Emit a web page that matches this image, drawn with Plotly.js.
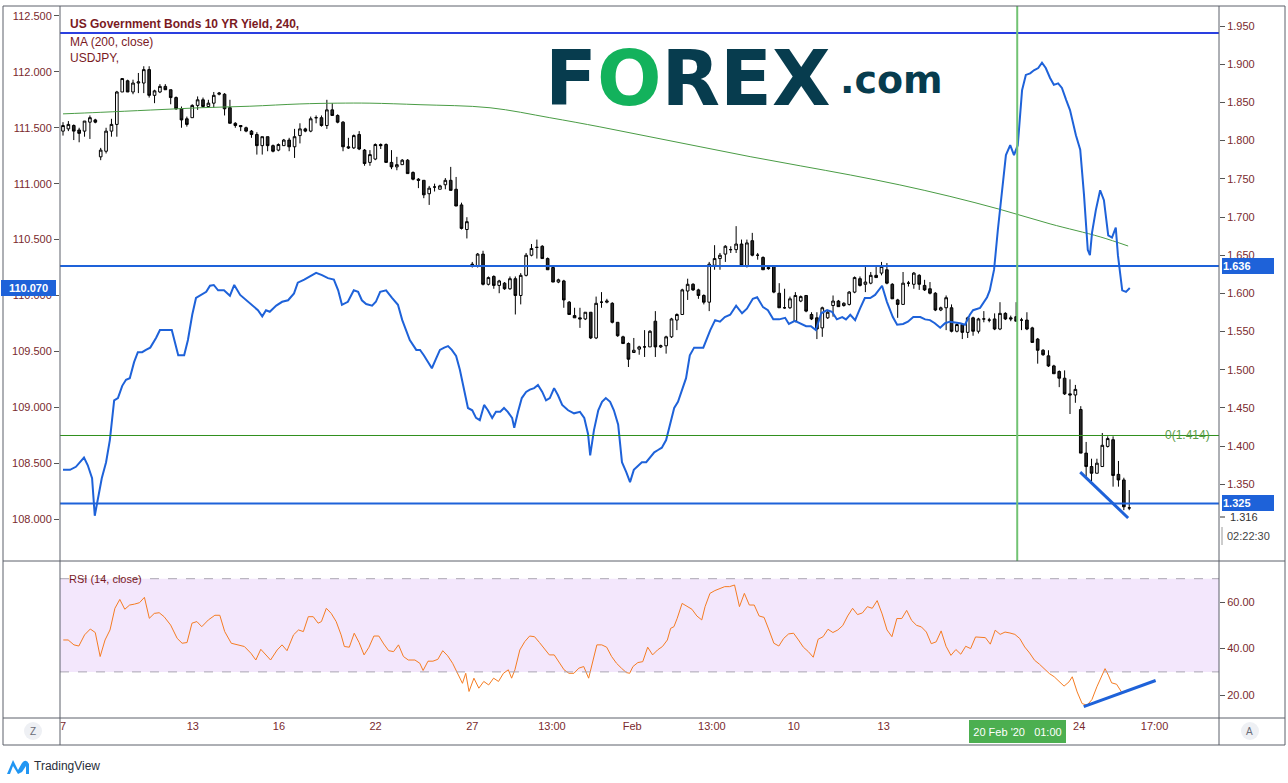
<!DOCTYPE html>
<html><head><meta charset="utf-8">
<script src="https://cdn.plot.ly/plotly-3.0.1.min.js"></script>
<style>html,body{margin:0;padding:0;background:#fff;}#chart{width:1288px;height:783px;}</style>
</head><body><div id="chart"></div>
<script>
// ---- USDJPY 4h candles (left scale) ----
const usdjpyOpen = [111.47,111.49,111.52,111.48,111.47,111.55,111.57,111.24,111.29,111.47,
111.53,111.82,111.92,111.82,111.90,111.90,112.02,111.79,111.82,111.87,
111.84,111.77,111.67,111.58,111.59,111.70,111.75,111.69,111.72,111.80,
111.80,111.68,111.54,111.52,111.50,111.47,111.44,111.34,111.42,111.34,
111.30,111.34,111.39,111.33,111.43,111.49,111.47,111.59,111.59,111.52,
111.66,111.61,111.55,111.33,111.32,111.44,111.30,111.19,111.22,111.35,
111.35,111.19,111.15,111.17,111.21,111.10,111.04,111.03,110.91,110.97,
110.95,110.99,111.03,110.95,110.81,110.59,110.28,110.26,110.37,110.10,
110.17,110.09,110.11,110.06,110.15,110.00,110.18,110.36,110.43,110.44,
110.33,110.25,110.12,110.13,109.94,109.82,109.80,109.79,109.85,109.62,
109.94,109.94,109.93,109.76,109.63,109.57,109.49,109.52,109.54,109.54,
109.77,109.54,109.55,109.63,109.78,109.83,110.04,110.10,110.05,110.00,
109.94,110.27,110.33,110.37,110.41,110.41,110.46,110.26,110.49,110.36,
110.34,110.25,110.26,110.02,109.89,109.89,109.77,109.95,110.00,109.83,
109.80,109.71,109.80,109.91,109.95,109.91,109.92,110.03,110.15,110.10,
110.11,110.18,110.20,110.23,110.10,109.96,109.92,110.11,110.10,110.18,
110.09,110.06,110.02,109.87,109.89,109.89,109.68,109.74,109.67,109.80,
109.68,109.79,109.78,109.79,109.70,109.84,109.80,109.81,109.78,109.78,
109.71,109.61,109.51,109.46,109.37,109.32,109.26,109.12,109.11,108.98,
108.59,108.47,108.41,108.47,108.65,108.71,108.40,108.35,108.10];
const usdjpyHigh = [111.55,111.56,111.53,111.50,111.56,111.61,111.58,111.32,111.50,111.58,
111.83,111.94,111.93,111.93,111.99,112.05,112.05,111.84,111.89,111.89,
111.84,111.78,111.69,111.60,111.71,111.78,111.77,111.75,111.82,111.82,
111.81,111.75,111.55,111.52,111.51,111.48,111.46,111.42,111.42,111.35,
111.36,111.40,111.41,111.49,111.54,111.50,111.60,111.61,111.61,111.75,
111.72,111.62,111.56,111.41,111.44,111.47,111.31,111.30,111.36,111.36,
111.36,111.30,111.24,111.22,111.22,111.11,111.05,111.03,110.98,111.00,
110.99,111.05,111.15,111.06,110.83,110.70,110.30,110.38,110.40,110.17,
110.18,110.14,110.12,110.17,110.17,110.20,110.38,110.46,110.50,110.45,
110.34,110.25,110.15,110.14,109.95,109.89,109.89,109.85,109.85,109.99,
110.03,109.97,109.94,109.76,109.64,109.58,109.62,109.55,109.69,109.69,
109.86,109.56,109.64,109.80,109.84,110.06,110.15,110.11,110.06,110.01,
110.30,110.45,110.38,110.45,110.44,110.62,110.50,110.50,110.56,110.38,
110.35,110.27,110.27,110.11,110.06,109.99,110.03,110.00,110.00,109.85,
109.85,109.90,109.86,110.00,109.96,109.94,110.04,110.17,110.17,110.27,
110.21,110.27,110.30,110.29,110.11,109.97,110.21,110.13,110.21,110.19,
110.14,110.12,110.03,109.90,110.00,109.92,109.75,109.75,109.81,109.81,
109.80,109.86,109.80,109.84,109.94,109.85,109.82,109.94,109.80,109.85,
109.72,109.62,109.52,109.51,109.38,109.33,109.33,109.25,109.20,109.01,
108.69,108.54,108.54,108.77,108.74,108.74,108.52,108.37,108.26];
const usdjpyLow = [111.43,111.47,111.39,111.37,111.42,111.40,111.54,111.21,111.27,111.42,
111.42,111.82,111.82,111.80,111.81,111.81,111.77,111.72,111.81,111.84,
111.71,111.66,111.50,111.51,111.59,111.66,111.68,111.68,111.68,111.79,
111.61,111.54,111.50,111.47,111.46,111.41,111.26,111.26,111.29,111.28,
111.29,111.34,111.29,111.23,111.36,111.46,111.46,111.54,111.51,111.49,
111.61,111.54,111.29,111.31,111.31,111.30,111.16,111.16,111.21,111.31,
111.19,111.13,111.12,111.17,111.09,111.03,110.96,110.87,110.81,110.93,
110.95,110.95,110.94,110.80,110.59,110.51,110.25,110.25,110.09,110.09,
110.06,110.02,110.05,110.05,109.83,109.92,110.17,110.35,110.33,110.33,
110.23,110.12,110.11,109.89,109.83,109.80,109.71,109.78,109.61,109.61,
109.89,109.93,109.75,109.63,109.57,109.36,109.49,109.47,109.45,109.54,
109.45,109.53,109.48,109.62,109.69,109.83,109.96,110.04,109.97,109.92,
109.86,110.23,110.23,110.30,110.38,110.38,110.26,110.25,110.35,110.32,
110.23,110.23,110.02,109.89,109.88,109.88,109.76,109.94,109.85,109.78,
109.61,109.63,109.79,109.81,109.90,109.90,109.91,110.02,110.08,110.03,
110.10,110.16,110.18,110.10,109.97,109.80,109.92,110.08,110.06,110.05,
110.04,110.01,109.86,109.86,109.69,109.67,109.67,109.61,109.62,109.64,
109.66,109.76,109.76,109.69,109.69,109.78,109.77,109.77,109.69,109.69,
109.58,109.39,109.46,109.36,109.30,109.18,109.11,108.94,109.04,108.59,
108.38,108.34,108.41,108.47,108.64,108.29,108.29,108.08,108.08];
const usdjpyClose = [111.52,111.53,111.47,111.45,111.56,111.59,111.55,111.30,111.47,111.53,
111.82,111.94,111.82,111.90,111.91,112.02,111.79,111.83,111.87,111.84,
111.77,111.67,111.57,111.53,111.70,111.75,111.69,111.72,111.79,111.81,
111.67,111.54,111.52,111.51,111.47,111.44,111.34,111.42,111.34,111.29,
111.35,111.39,111.33,111.42,111.49,111.47,111.58,111.59,111.52,111.66,
111.61,111.55,111.33,111.32,111.43,111.31,111.18,111.26,111.35,111.34,
111.19,111.15,111.17,111.21,111.09,111.04,111.03,110.90,110.96,110.97,
110.98,111.03,110.94,110.80,110.60,110.66,110.27,110.37,110.10,110.16,
110.09,110.13,110.06,110.15,110.00,110.18,110.36,110.42,110.43,110.33,
110.23,110.12,110.14,109.96,109.83,109.80,109.79,109.85,109.62,109.93,
109.94,109.95,109.76,109.64,109.57,109.43,109.51,109.54,109.54,109.68,
109.54,109.55,109.63,109.79,109.83,110.05,110.10,110.05,110.00,109.94,
110.28,110.33,110.36,110.44,110.41,110.46,110.27,110.47,110.36,110.36,
110.23,110.24,110.03,109.89,109.89,109.97,110.00,109.99,109.86,109.79,
109.70,109.89,109.85,109.95,109.90,109.93,110.03,110.16,110.09,110.12,
110.18,110.16,110.26,110.11,109.97,109.92,110.11,110.11,110.20,110.10,
110.05,110.02,109.87,109.89,109.98,109.68,109.74,109.67,109.80,109.68,
109.79,109.79,109.78,109.70,109.84,109.79,109.79,109.77,109.78,109.70,
109.58,109.51,109.47,109.37,109.30,109.26,109.12,109.11,109.16,108.59,
108.47,108.41,108.50,108.66,108.72,108.39,108.35,108.11,108.10];

// ---- US 10Y yield line (right scale) : bar position / value ----
const yieldBar = [0,1.3,2.4,3.2,3.9,4.6,5.4,5.9,6.5,7.2,
8.0,8.7,9.5,10.2,11.0,11.7,12.4,13.2,13.9,14.7,
15.4,16.2,17.3,18.0,19.1,20.2,21.4,22.5,23.2,24.0,
24.7,25.4,26.6,27.3,28.0,28.8,29.9,31.0,31.8,32.9,
33.6,34.4,35.1,36.2,37.0,37.7,38.4,39.6,40.7,41.8,
42.9,43.6,44.8,45.9,47.0,48.1,49.2,50.3,51.1,51.8,
52.9,54.0,54.8,55.5,56.3,57.4,58.1,58.9,60.0,61.1,
62.2,63.0,63.7,64.4,65.6,66.3,67.0,67.8,68.5,69.3,
70.0,70.8,71.5,72.2,73.0,73.7,74.5,75.2,76.0,76.7,
77.4,78.2,78.9,79.7,80.4,81.2,81.9,82.6,83.4,83.8,
84.5,85.2,86.0,86.7,87.5,88.2,89.0,89.7,90.4,91.2,
91.9,92.7,93.8,94.9,96.0,96.8,97.5,97.9,98.6,99.4,
100.1,100.8,101.6,102.3,103.1,103.8,104.6,105.3,106.0,106.8,
107.5,108.3,109.0,109.8,110.5,111.2,112.0,112.7,113.5,114.2,
115.0,115.7,116.4,117.2,117.9,118.9,120.2,121.1,122.0,122.9,
123.9,125.0,126.1,127.0,128.1,128.9,130.0,130.9,131.9,133.0,
134.1,134.8,135.9,136.9,138.0,138.9,139.8,140.8,141.9,142.8,
143.7,144.7,145.4,146.2,147.1,148.0,148.9,149.9,150.8,152.1,
153.0,154.1,154.9,156.0,156.9,157.9,159.2,160.1,161.0,161.9,
162.9,163.8,164.7,166.6,167.5,168.4,169.0,170.3,171.6,172.1,
172.9,173.6,174.4,175.1,175.9,176.6,177.3,178.1,178.8,179.6,
180.3,181.1,181.8,182.5,183.3,184.0,184.8,185.5,186.3,187.0,
188.1,188.9,189.6,190.3,190.7,191.1,191.8,192.6,193.3,194.1,
194.8,195.5,195.9,196.7,197.4,198.1];
const yieldVal = [1.369,1.369,1.373,1.379,1.385,1.375,1.358,1.309,1.330,1.358,
1.379,1.408,1.460,1.463,1.479,1.487,1.489,1.510,1.523,1.523,
1.526,1.529,1.542,1.552,1.552,1.552,1.519,1.519,1.539,1.572,
1.594,1.597,1.602,1.610,1.611,1.604,1.604,1.597,1.611,1.598,
1.594,1.589,1.585,1.578,1.570,1.578,1.576,1.584,1.589,1.591,
1.600,1.614,1.618,1.623,1.627,1.624,1.620,1.618,1.604,1.585,
1.589,1.604,1.602,1.591,1.586,1.584,1.589,1.602,1.604,1.594,
1.585,1.565,1.552,1.539,1.526,1.526,1.519,1.510,1.502,1.515,
1.526,1.529,1.531,1.526,1.518,1.500,1.474,1.450,1.447,1.437,
1.434,1.454,1.447,1.437,1.445,1.445,1.450,1.445,1.437,1.424,
1.445,1.463,1.471,1.474,1.476,1.480,1.471,1.460,1.463,1.476,
1.467,1.454,1.447,1.443,1.445,1.437,1.416,1.388,1.421,1.447,
1.458,1.463,1.458,1.447,1.428,1.379,1.366,1.353,1.369,1.375,
1.379,1.379,1.385,1.392,1.395,1.398,1.408,1.428,1.450,1.458,
1.474,1.489,1.519,1.529,1.529,1.529,1.552,1.565,1.563,1.569,
1.572,1.584,1.574,1.580,1.593,1.595,1.582,1.578,1.566,1.566,
1.568,1.560,1.564,1.561,1.557,1.557,1.552,1.574,1.578,1.576,
1.566,1.569,1.566,1.572,1.565,1.580,1.594,1.594,1.598,1.610,
1.589,1.569,1.559,1.560,1.563,1.569,1.569,1.566,1.565,1.561,
1.555,1.561,1.563,1.561,1.559,1.572,1.578,1.581,1.595,1.604,
1.631,1.683,1.735,1.781,1.794,1.781,1.794,1.866,1.886,1.888,
1.892,1.895,1.902,1.895,1.882,1.873,1.875,1.869,1.853,1.840,
1.807,1.788,1.729,1.657,1.650,1.680,1.709,1.735,1.722,1.676,
1.673,1.686,1.650,1.604,1.602,1.607];

// ---- MA (200, close) ----
const maBar = [0,6.9,16.2,25.4,34.7,44.0,50.9,57.0,66.3,79.3,90.4,99.7,109.0,118.3,127.6,136.9,146.2,155.4,164.7,174.0,183.3,192.6,197.8];
const maVal = [1.835,1.837,1.840,1.843,1.845,1.848,1.849,1.849,1.847,1.843,1.830,1.818,1.805,1.792,1.779,1.767,1.755,1.742,1.727,1.710,1.691,1.674,1.662];

// ---- RSI (14, close) ----
const rsiBar = [0.05,0.96,2.03,2.94,4.01,5.07,5.99,6.9,7.81,8.73,
9.64,10.55,11.47,12.38,13.29,14.21,15.12,16.03,16.95,17.86,
18.77,19.99,21.2,22.12,23.03,23.95,24.86,25.77,26.99,28.2,
29.12,30.03,31.25,32.46,33.68,34.9,35.81,36.73,37.64,38.55,
39.77,40.68,41.6,42.81,43.73,44.64,45.55,46.47,47.38,47.99,
48.9,49.81,50.73,51.64,52.25,53.17,54.08,54.99,55.91,56.82,
57.73,58.65,59.56,60.48,61.39,62.3,63.22,64.13,65.35,66.26,
66.87,67.78,68.7,69.61,70.52,71.44,72.35,73.26,74.18,74.79,
75.4,76.31,77.22,78.14,79.05,79.96,80.87,81.79,82.7,83.31,
83.92,84.83,85.75,86.66,87.57,88.48,89.4,90.31,91.22,92.14,
93.05,93.96,94.88,95.79,96.7,97.61,98.22,99.14,100.05,100.96,
101.88,102.79,103.7,104.62,105.23,105.84,106.75,107.66,108.58,109.49,
110.4,111.32,112.23,112.84,113.45,114.06,114.97,115.88,116.79,117.71,
118.62,119.23,120.14,121.05,121.97,122.88,123.79,124.71,125.62,126.53,
127.45,128.36,129.27,130.19,131.1,132.01,132.93,133.84,134.75,135.67,
136.58,137.49,138.41,139.32,140.23,141.15,142.06,142.97,143.89,144.8,
145.71,146.63,147.54,148.45,149.37,150.28,151.19,152.11,153.02,153.93,
154.85,155.76,156.67,157.59,158.5,159.41,160.33,161.24,162.15,163.07,
163.98,164.89,165.81,166.72,167.63,168.55,169.46,170.37,171.29,172.2,
173.11,174.03,174.94,175.85,176.76,177.68,178.59,179.5,180.42,181.33,
182.24,183.16,184.07,184.98,185.9,186.81,187.42,188.33,189.25,190.16,
191.07,191.99,192.9,193.51,194.12,194.73,195.65,196.56,197.47];
const rsiVal = [43.7,43.7,41.6,41.1,45.9,48.4,46.9,36.6,43.7,48.0,
57.3,61.1,56.9,58.7,59.1,59.7,62.0,53.0,55.1,55.4,
53.7,50.1,44.4,42.3,42.6,50.9,51.6,49.4,52.3,54.3,
54.3,47.3,42.3,41.6,40.9,38.0,35.1,39.7,37.3,35.1,
39.4,41.6,39.1,45.9,48.0,47.3,53.7,53.7,50.9,51.6,
57.3,55.1,51.6,45.9,40.9,40.6,46.6,42.6,37.3,40.6,
45.4,45.4,42.0,39.1,38.7,41.6,36.6,35.1,35.1,33.7,
30.6,34.6,34.6,35.4,39.1,36.9,33.7,29.4,25.1,29.4,
21.6,27.3,23.0,25.9,24.4,27.3,25.9,29.4,30.9,27.3,
30.9,39.4,43.0,45.4,45.1,42.6,39.7,37.3,37.3,34.0,
30.9,29.4,29.4,31.6,32.3,27.3,33.0,41.6,41.6,40.6,
36.6,33.7,31.6,29.7,29.4,32.3,34.0,34.4,40.6,37.3,
39.4,40.9,43.7,48.7,49.4,53.0,59.4,58.3,56.9,54.0,
52.3,58.0,63.7,64.9,65.9,66.6,66.6,67.3,58.0,63.7,
58.7,58.7,54.0,53.4,48.0,42.3,41.1,44.4,46.3,46.6,
43.7,40.6,38.7,36.3,44.0,45.1,48.3,46.9,48.0,49.9,
54.0,57.3,54.6,55.3,58.0,57.3,60.6,54.9,48.0,45.1,
52.9,52.9,56.4,52.1,50.0,49.3,47.1,42.1,42.9,47.6,
41.0,37.1,39.6,37.6,41.0,40.0,45.0,44.7,44.7,41.9,
47.9,46.1,47.1,46.7,46.1,44.3,40.7,38.1,35.0,33.3,
31.4,29.3,27.9,26.1,23.9,25.7,27.9,21.4,16.4,15.7,
18.1,23.6,28.6,31.4,28.6,25.3,24.7,21.4,21.4];

// ---- drawings / levels ----
const yieldLevels = [1.941, 1.636, 1.325];
const fibLevel = 1.414;
const eventBar = 177.2;               // 20 Feb '20 01:00
const priceTrendBar = [188.9, 197.8];
const priceTrendVal = [108.42, 108.01];
const rsiTrendBar = [189.55, 202.9];
const rsiTrendVal = [15.1, 26.3];
const rsiBands = [30, 70];
const lastUsdjpyLabel = 110.070;
const lastYieldLabel = 1.316;

// ---- axes ticks ----
const tickBars = [0, 24.1, 40.1, 58.05, 76.0, 90.8, 105.7, 120.5, 135.7, 152.4, 188.7, 202.7];
const tickLabels = ['7','13','16','22','27','13:00','Feb','13:00','10','13','24','17:00'];
const yieldTicks = [1.35,1.40,1.45,1.50,1.55,1.60,1.65,1.70,1.75,1.80,1.85,1.90,1.95];
const rsiTicks = [20, 40, 60];

// ---- helpers (pixel -> paper, decoration only) ----
const px = x => (x - 60) / 1159;
const py = y => (718 - y) / 712;

const TXT = '#7a2a2e';
const BLUE = '#1e62d9';
const bars = usdjpyOpen.map((_, i) => i);

const traces = [
  {type:'candlestick', x:bars, open:usdjpyOpen, high:usdjpyHigh, low:usdjpyLow, close:usdjpyClose,
   xaxis:'x', yaxis:'y', whiskerwidth:0,
   increasing:{line:{color:'#000000', width:1}, fillcolor:'#ffffff'},
   decreasing:{line:{color:'#000000', width:1}, fillcolor:'#262626'},
   hoverinfo:'skip'},
  {type:'scatter', mode:'lines', x:maBar, y:maVal, xaxis:'x', yaxis:'y2',
   line:{color:'#4a9c45', width:1, shape:'spline'}, hoverinfo:'skip'},
  {type:'scatter', mode:'lines', x:yieldBar, y:yieldVal, xaxis:'x', yaxis:'y2',
   line:{color:BLUE, width:2}, hoverinfo:'skip'},
  {type:'scatter', mode:'lines', x:priceTrendBar, y:priceTrendVal, xaxis:'x', yaxis:'y',
   line:{color:BLUE, width:3}, hoverinfo:'skip'},
  {type:'scatter', mode:'lines', x:rsiBar, y:rsiVal, xaxis:'x', yaxis:'y3',
   line:{color:'#f57c22', width:1}, hoverinfo:'skip'},
  {type:'scatter', mode:'lines', x:rsiTrendBar, y:rsiTrendVal, xaxis:'x', yaxis:'y3',
   line:{color:BLUE, width:3}, hoverinfo:'skip'}
];

const frameColor = '#5d606b';
const shapes = [
  {type:'rect', xref:'paper', yref:'y3', x0:0, x1:1, y0:rsiBands[0], y1:rsiBands[1], fillcolor:'#f3e7fc', line:{width:0}, layer:'below'},
  ...rsiBands.map(v => ({type:'line', xref:'paper', yref:'y3', x0:0, x1:1, y0:v, y1:v, line:{color:'#aaa5b2', width:1, dash:'dash'}})),
  ...yieldLevels.map((v, i) => ({type:'line', xref:'paper', yref:'y2', x0:0, x1:1, y0:v, y1:v, line:{color: i === 0 ? '#2a3fe0' : BLUE, width:2}})),
  {type:'line', xref:'paper', yref:'y2', x0:0, x1:1, y0:fibLevel, y1:fibLevel, line:{color:'#2f8f1c', width:1}},
  {type:'line', xref:'x', yref:'paper', x0:eventBar, x1:eventBar, y0:py(561), y1:1, line:{color:'#72c374', width:2}},
  // frame
  {type:'rect', xref:'paper', yref:'paper', x0:px(3), x1:px(1285), y0:py(745), y1:py(6), line:{color:frameColor, width:1}},
  {type:'line', xref:'paper', yref:'paper', x0:0, x1:0, y0:py(745), y1:1, line:{color:frameColor, width:1}},
  {type:'line', xref:'paper', yref:'paper', x0:1, x1:1, y0:py(745), y1:1, line:{color:frameColor, width:1}},
  {type:'line', xref:'paper', yref:'paper', x0:px(3), x1:px(1285), y0:py(561), y1:py(561), line:{color:frameColor, width:1}},
  {type:'line', xref:'paper', yref:'paper', x0:px(3), x1:px(1285), y0:0, y1:0, line:{color:frameColor, width:1}},
  // countdown separator + last value tick
  {type:'line', xref:'paper', yref:'paper', x0:px(1222), x1:px(1222), y0:py(545), y1:py(527), line:{color:'#9a9a9a', width:1}},
  {type:'line', xref:'paper', yref:'paper', x0:px(1220), x1:px(1225), y0:py(517), y1:py(517), line:{color:'#333', width:1}},
  // Z / A buttons
  {type:'circle', xref:'paper', yref:'paper', x0:px(24), x1:px(42), y0:py(740), y1:py(722), fillcolor:'#eef0f4', line:{width:0}},
  {type:'circle', xref:'paper', yref:'paper', x0:px(1241), x1:px(1259), y0:py(740), y1:py(722), fillcolor:'#eef0f4', line:{width:0}},
  // TradingView icon
  {type:'path', xref:'paper', yref:'paper',
   path:`M ${px(7)} ${py(774)} L ${px(13)} ${py(760)} L ${px(18)} ${py(770)} L ${px(22)} ${py(763)} Q ${px(26)} ${py(758)} ${px(29)} ${py(764)} L ${px(29)} ${py(774)} L ${px(26)} ${py(774)} L ${px(26)} ${py(766)} L ${px(22)} ${py(772)} L ${px(18)} ${py(774)} L ${px(13)} ${py(766)} L ${px(10)} ${py(774)} Z`,
   fillcolor:'#2196f3', line:{width:0}}
];

const ann = (o) => Object.assign({showarrow:false, xref:'paper', yref:'paper'}, o);
const annotations = [
  ann({x:px(68), y:py(24), xanchor:'left', yanchor:'middle', text:'<b>US Government Bonds 10 YR Yield, 240,</b>', font:{family:'Liberation Sans, Arial', size:12, color:'#7a1a1f'}}),
  ann({x:px(68), y:py(42), xanchor:'left', yanchor:'middle', text:'MA (200, close)', font:{family:'Liberation Sans, Arial', size:12, color:'#7a1a1f'}}),
  ann({x:px(68), y:py(58), xanchor:'left', yanchor:'middle', text:'USDJPY,', font:{family:'Liberation Sans, Arial', size:12, color:'#7a1a1f'}}),
  ann({x:px(543), y:py(79), xanchor:'left', yanchor:'middle',
       text:'<b><span style="color:#073c4e">F</span><span style="color:#13b25c">O</span><span style="color:#073c4e">REX</span></b>',
       font:{family:'DejaVu Sans', size:76, color:'#073c4e'}}),
  ann({x:px(838), y:py(80), xanchor:'left', yanchor:'middle', text:'<b>.com</b>', font:{family:'DejaVu Sans', size:38, color:'#073c4e'}}),
  ann({x:px(28), y:lastUsdjpyLabel, yref:'y', xanchor:'center', yanchor:'middle', text:'<b>' + lastUsdjpyLabel.toFixed(3) + '</b>', bgcolor:BLUE, borderwidth:0, borderpad:1, width:53, height:14, font:{family:'Liberation Sans, Arial', size:11, color:'#ffffff'}}),
  ...yieldLevels.slice(1).map(v => ann({x:px(1222), y:v, yref:'y2', xanchor:'left', yanchor:'middle', text:'<b>' + v.toFixed(3) + '</b>', align:'left', bgcolor:BLUE, borderwidth:0, borderpad:1, width:50, height:14, font:{family:'Liberation Sans, Arial', size:11, color:'#ffffff'}})),
  ann({x:px(1228), y:py(517), xanchor:'left', yanchor:'middle', text:lastYieldLabel.toFixed(3), font:{family:'Liberation Sans, Arial', size:11, color:'#333333'}}),
  ann({x:px(1225), y:py(536), xanchor:'left', yanchor:'middle', text:'02:22:30', font:{family:'Liberation Sans, Arial', size:11, color:'#444444'}}),
  ann({x:px(1212), y:fibLevel, yref:'y2', xanchor:'right', yanchor:'middle', text:'0(' + fibLevel.toFixed(3) + ')', font:{family:'Liberation Sans, Arial', size:12, color:'#5b9c4a'}}),
  ann({x:px(67), y:py(579), xanchor:'left', yanchor:'middle', text:'RSI (14, close)', font:{family:'Liberation Sans, Arial', size:11, color:'#7a1a1f'}}),
  ann({x:eventBar, xref:'x', y:py(731), xanchor:'center', yanchor:'middle', text:"20 Feb '20&nbsp;&nbsp;&nbsp;01:00", bgcolor:'#4caf50', borderwidth:0, borderpad:1, width:95, height:21, font:{family:'Liberation Sans, Arial', size:11, color:'#ffffff'}}),
  ann({x:px(33), y:py(731), xanchor:'center', yanchor:'middle', text:'Z', font:{family:'Liberation Sans, Arial', size:10, color:'#6a6d78'}}),
  ann({x:px(1250), y:py(731), xanchor:'center', yanchor:'middle', text:'A', font:{family:'Liberation Sans, Arial', size:10, color:'#6a6d78'}}),
  ann({x:px(32), y:py(766), xanchor:'left', yanchor:'middle', text:'TradingView', font:{family:'Liberation Sans, Arial', size:12, color:'#2a2e39'}})
];

const axisCommon = {showgrid:false, zeroline:false, showline:false, fixedrange:true,
  ticks:'outside', ticklen:5, tickcolor:'#555', tickfont:{family:'Liberation Sans, Arial', size:11, color:TXT}};

const layout = {
  width:1288, height:783,
  margin:{l:60, r:69, t:6, b:65, pad:0},
  paper_bgcolor:'#ffffff', plot_bgcolor:'#ffffff',
  showlegend:false,
  font:{family:'Liberation Sans, Arial, sans-serif', size:11, color:TXT},
  xaxis:{range:[-0.557, 214.67], anchor:'y3', tickmode:'array', tickvals:tickBars, ticktext:tickLabels,
         ticks:'', showgrid:false, zeroline:false, showline:false, fixedrange:true,
         rangeslider:{visible:false}, tickfont:{family:'Liberation Sans, Arial', size:11, color:TXT}},
  yaxis:Object.assign({}, axisCommon, {domain:[0.2219, 1], range:[107.634, 112.589], side:'left', anchor:'x',
         tickmode:'linear', tick0:108, dtick:0.5, tickformat:'.3f'}),
  yaxis2:Object.assign({}, axisCommon, {overlaying:'y', side:'right', anchor:'x', range:[1.2510, 1.9762],
         tickmode:'array', tickvals:yieldTicks, tickformat:'.3f'}),
  yaxis3:Object.assign({}, axisCommon, {domain:[0, 0.2191], range:[10.21, 77.17], side:'right', anchor:'x',
         tickmode:'array', tickvals:rsiTicks, tickformat:'.2f'}),
  shapes:shapes,
  annotations:annotations
};

Plotly.newPlot('chart', traces, layout, {staticPlot:true, displayModeBar:false});
</script>
</body></html>
